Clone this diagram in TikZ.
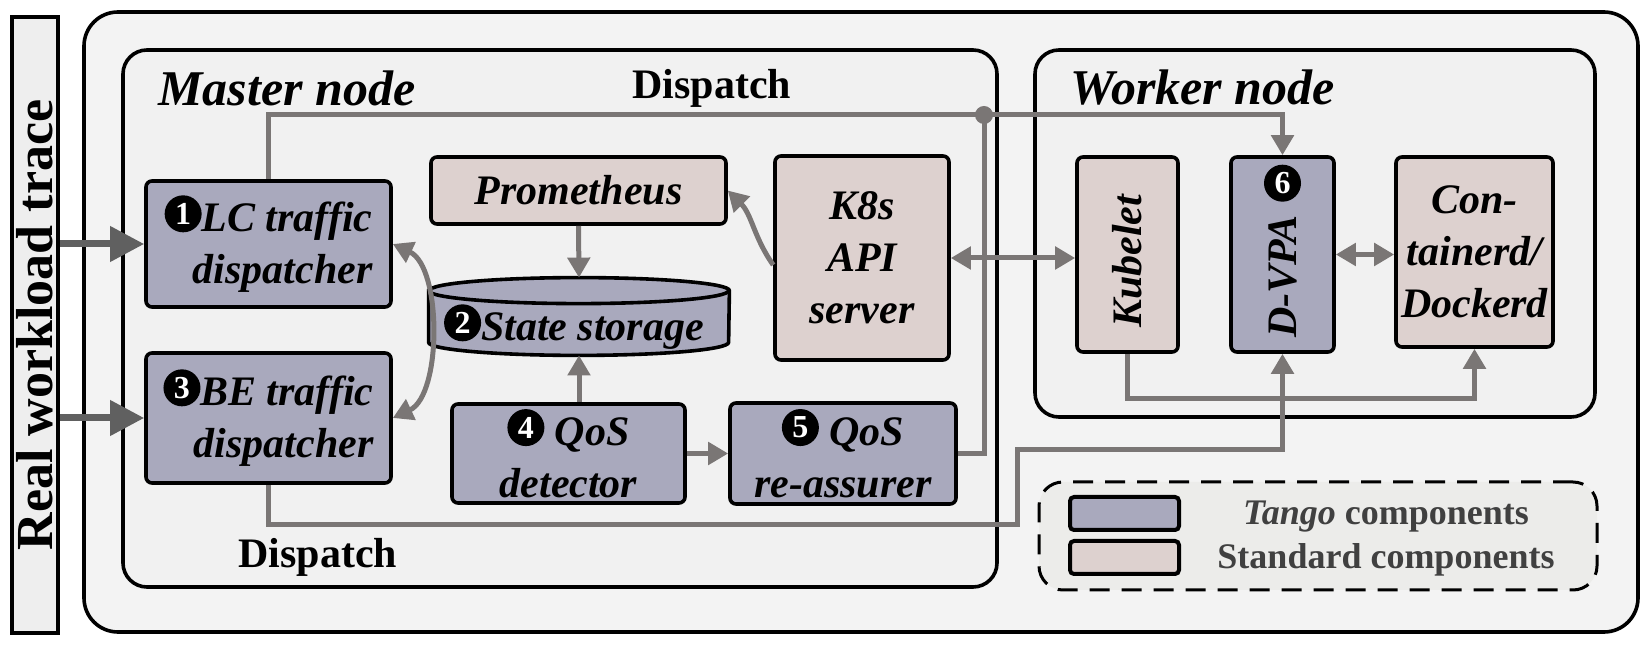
\documentclass[tikz,border=0pt]{standalone}
\usepackage{fontspec}
\setmainfont{Liberation Serif}
\usetikzlibrary{arrows.meta,calc}
\definecolor{tangofill}{HTML}{A9A9BD}
\definecolor{stdfill}{HTML}{DDD1CF}
\definecolor{outerbg}{HTML}{F3F3F3}
\definecolor{nodebg}{HTML}{F1F1F1}
\definecolor{barbg}{HTML}{EEEEEE}
\definecolor{legbg}{HTML}{ECECEA}
\definecolor{flowgray}{HTML}{7A7675}
\definecolor{feedgray}{HTML}{606060}
\definecolor{legtext}{HTML}{404040}
\newcommand{\cnum}[1]{\tikz[baseline={([yshift=0.5pt]cn.south)}]\node[circle, fill=black, text=white,
  inner sep=0pt, minimum size=18.5pt, font=\fontsize{16}{16}\selectfont\bfseries\upshape] (cn) {#1};}

\begin{document}
\begin{tikzpicture}[
  x=0.5pt, y=0.5pt,
  comp/.style={draw=black, line width=1.8pt, rounded corners=3pt, inner sep=0pt,
    font=\fontsize{21}{26}\selectfont\bfseries\itshape, align=center},
  tango/.style={comp, fill=tangofill},
  std/.style={comp, fill=stdfill},
  frame/.style={draw=black, line width=1.8pt, rounded corners=12pt, fill=nodebg, inner sep=0pt},
  title/.style={font=\fontsize{25}{30}\selectfont\bfseries\itshape, anchor=west, inner sep=0pt},
  lab/.style={font=\fontsize{21}{25}\selectfont\bfseries},
  flow/.style={draw=flowgray, line width=2.5pt, -{Triangle[length=10pt,width=11pt]}},
  twoway/.style={flow, {Triangle[length=10pt,width=11pt]}-{Triangle[length=10pt,width=11pt]}},
  feed/.style={draw=feedgray, line width=3.5pt, -{Triangle[length=17pt,width=17pt]}},
  leg/.style={font=\fontsize{18}{22}\selectfont\bfseries, text=legtext},
  swatch/.style={draw=black, line width=2pt, rounded corners=2pt, minimum width=54.5pt,
    minimum height=16.5pt, inner sep=0pt}
]
\useasboundingbox (0,0) rectangle (1650,-651);
% ---- frames ----
\node[frame, rounded corners=17pt, fill=outerbg, minimum width=777pt, minimum height=310pt]
  (cluster) at (861,-322) {};
\node[draw=black, line width=1.8pt, fill=barbg, rotate=90, minimum width=308pt,
  minimum height=23pt, inner sep=0pt, font=\fontsize{26}{30}\selectfont\bfseries]
  (trace) at (35,-325) {Real workload trace};
\node[frame, minimum width=437pt, minimum height=268.5pt] (master) at (560,-318.5) {};
\node[frame, minimum width=280pt, minimum height=183.5pt] (worker) at (1315,-233.5) {};
\node[title] (mtitle) at (158,-88) {Master node};
\node[title] (wtitle) at (1070,-88) {Worker node};
\node[lab] (disptop) at (712,-88) {Dispatch};
\node[lab] (dispbot) at (318,-557) {Dispatch};
% ---- master node components ----
\node[tango, minimum width=122.5pt, minimum height=63pt, align=right]
  (lc) at (268.5,-244) {\cnum{1}LC traffic\\dispatcher};
\node[tango, minimum width=122.5pt, minimum height=65pt, align=right]
  (be) at (268.5,-418) {\cnum{3}BE traffic\\dispatcher};
\node[std, minimum width=147.5pt, minimum height=33.5pt] (prom) at (578.5,-190.5) {Prometheus};
\node[std, minimum width=87pt, minimum height=102pt] (k8s) at (862,-258) {K8s\\API\\server};
\node[tango, minimum width=116.5pt, minimum height=49.5pt] (det) at (568.5,-453.5)
  {\cnum{4} QoS\\detector};
\node[tango, minimum width=113pt, minimum height=50.5pt] (reas) at (843,-453.5)
  {\cnum{5} QoS\\re-assurer};
% state storage cylinder
\node[minimum width=150pt, minimum height=38.5pt, inner sep=0pt] (store) at (579,-316.5) {};
\draw[line width=1.8pt, fill=tangofill]
  ($(store.north west)+(0,-13)$) -- ($(store.south west)+(0,13)$)
  arc[start angle=180, end angle=360, x radius=75pt, y radius=6.5pt]
  -- ($(store.north east)+(0,-13)$)
  arc[start angle=0, end angle=180, x radius=75pt, y radius=6.5pt] -- cycle;
\draw[line width=1.8pt] ($(store.north west)+(0,-13)$)
  arc[start angle=180, end angle=360, x radius=75pt, y radius=6.5pt];
\node[font=\fontsize{21}{26}\selectfont\bfseries\itshape] (storetxt) at (574,-327)
  {\cnum{2}State storage};
% ---- worker node components ----
\node[std, minimum width=50.5pt, minimum height=97.5pt] (kub) at (1127.5,-254.5) {};
\node[tango, minimum width=51.5pt, minimum height=97.5pt] (dvpa) at (1282.5,-254.5) {};
\node[std, minimum width=78.5pt, minimum height=95pt] (cont) at (1474.5,-252)
  {Con-\\tainerd/\\Dockerd};
\node[rotate=90, font=\fontsize{21}{26}\selectfont\bfseries\itshape] (kubtxt)
  at ($(kub.center)+(0,-7)$) {Kubelet};
\node[rotate=90, font=\fontsize{21}{26}\selectfont\bfseries\itshape] (dvpatxt)
  at ($(dvpa.center)+(0,-22)$) {D-VPA};
\node[inner sep=0pt] (dvpanum) at ($(dvpa.north)+(0,-28)$) {\cnum{6}};
% ---- legend ----
\node[draw=black, line width=1.5pt, dash pattern=on 10pt off 6pt, rounded corners=12pt,
  fill=legbg, minimum width=279pt, minimum height=54pt] (legend) at (1318,-536) {};
\node[swatch, fill=tangofill] (legtango) at (1124.5,-513.5) {};
\node[swatch, fill=stdfill] (legstd) at (1124.5,-557.5) {};
\node[leg] (legtangotxt) at (1386,-517) {\textit{Tango} components};
\node[leg] (legstdtxt) at (1386,-560) {Standard components};
% ---- connectors ----
\draw[feed] (trace.south |- lc.west) -- (lc.west);
\draw[feed] (trace.south |- be.west) -- (be.west);
\coordinate (tap) at (984,-115);
\draw[flow] (lc.north) |- (tap) -| (dvpa.north);
\draw[flow, -] (reas.east) -| (tap);
\fill[flowgray] (tap) circle[radius=4.5pt];
\coordinate (bk1) at (1017,-525);
\coordinate (bk2) at (1017,-450);
\draw[flow] (be.south) |- (bk1) -- (bk2) -| (dvpa.south);
\draw[twoway] (lc.east) to[out=-25, in=25, looseness=0.8] (be.east);
\draw[flow] (prom.south) -- (store.north);
\draw[flow] (store.south |- det.north) -- (store.south);
\draw[flow] (det.east) -- (reas.west);
\draw[flow] ([yshift=-3.5pt]k8s.west) to[out=125, in=-45] (prom.east);
\draw[twoway] (k8s.east) -- (k8s.east -| kub.west);
\draw[twoway] (dvpa.east) -- (dvpa.east -| cont.west);
\draw[flow] (kub.south) -- ++(0,-45) -| (cont.south);
\end{tikzpicture}
\end{document}
